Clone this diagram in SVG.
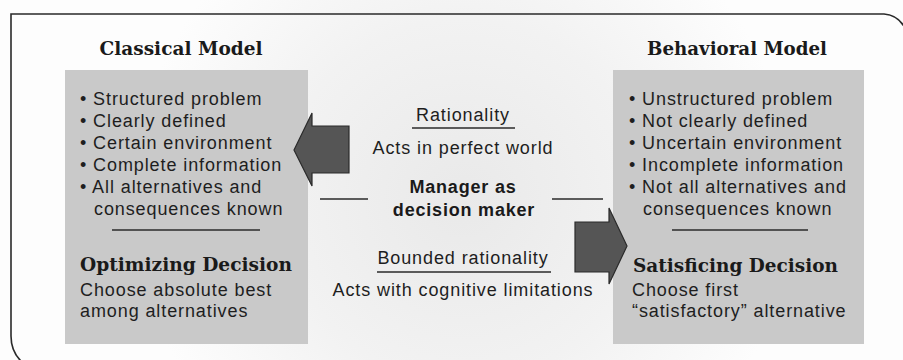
<svg xmlns="http://www.w3.org/2000/svg" width="903" height="360" viewBox="0 0 903 360">
  <defs>
    <radialGradient id="haze" gradientUnits="userSpaceOnUse" cx="463" cy="200" r="330">
      <stop offset="0" stop-color="#e9e9e9"/>
      <stop offset="0.55" stop-color="#f2f2f2"/>
      <stop offset="1" stop-color="#fdfdfd"/>
    </radialGradient>
    <style>
      .slab { font-family: "DejaVu Serif", "Liberation Serif", serif; font-weight: bold; font-size: 18px; fill: #1a1a1a; }
      .sans { font-family: "Liberation Sans", Arial, sans-serif; font-size: 18px; letter-spacing: 0.9px; fill: #1e1e1e; }
      .bold { font-family: "Liberation Sans", Arial, sans-serif; font-size: 18px; font-weight: bold; letter-spacing: 0.8px; fill: #1a1a1a; }
      .mid { text-anchor: middle; }
      .box { fill: #c9c9c9; }
      .rule { stroke: #2a2a2a; stroke-width: 1.5; fill: none; }
      .arrow { fill: #555555; stroke: #2a2a2a; stroke-width: 1.2; }
    </style>
  </defs>

  <rect x="0" y="0" width="903" height="360" fill="url(#haze)"/>

  <g id="frame">
    <path d="M 22 362 Q 11 352 11 336 L 11 14 L 884 14 Q 898 15 905 28" fill="none" stroke="#2a2a2a" stroke-width="1.6"/>
  </g>

  <g id="classical-model">
    <text class="slab mid" x="181" y="55" textLength="163" lengthAdjust="spacingAndGlyphs">Classical Model</text>
    <rect class="box" x="65" y="70" width="243" height="274"/>
    <text class="sans" x="80" y="105">• Structured problem</text>
    <text class="sans" x="80" y="127">• Clearly defined</text>
    <text class="sans" x="80" y="149">• Certain environment</text>
    <text class="sans" x="80" y="171">• Complete information</text>
    <text class="sans" x="80" y="193">• All alternatives and</text>
    <text class="sans" x="94" y="215">consequences known</text>
    <line class="rule" x1="112" y1="230" x2="260" y2="230"/>
    <text class="slab" x="80" y="271" textLength="212" lengthAdjust="spacingAndGlyphs">Optimizing Decision</text>
    <text class="sans" x="80" y="296">Choose absolute best</text>
    <text class="sans" x="80" y="317">among alternatives</text>
  </g>

  <g id="behavioral-model">
    <text class="slab mid" x="737" y="55" textLength="180" lengthAdjust="spacingAndGlyphs">Behavioral Model</text>
    <rect class="box" x="613" y="70" width="251" height="274"/>
    <text class="sans" x="629" y="105">• Unstructured problem</text>
    <text class="sans" x="629" y="127">• Not clearly defined</text>
    <text class="sans" x="629" y="149">• Uncertain environment</text>
    <text class="sans" x="629" y="171">• Incomplete information</text>
    <text class="sans" x="629" y="193">• Not all alternatives and</text>
    <text class="sans" x="643" y="215">consequences known</text>
    <line class="rule" x1="672" y1="230" x2="808" y2="230"/>
    <text class="slab" x="633" y="272" textLength="205" lengthAdjust="spacingAndGlyphs">Satisficing Decision</text>
    <text class="sans" x="632" y="296">Choose first</text>
    <text class="sans" x="632" y="317">“satisfactory” alternative</text>
  </g>

  <g id="manager">
    <text class="sans mid" x="463" y="121">Rationality</text>
    <line class="rule" x1="412" y1="128" x2="515" y2="128"/>
    <text class="sans mid" x="463" y="154">Acts in perfect world</text>
    <text class="bold mid" x="463" y="193">Manager as</text>
    <text class="bold mid" x="464" y="216">decision maker</text>
    <line class="rule" x1="320" y1="199" x2="368" y2="199"/>
    <line class="rule" x1="552" y1="199" x2="603" y2="199"/>
    <text class="sans mid" x="463" y="264">Bounded rationality</text>
    <line class="rule" x1="377" y1="272" x2="551" y2="272"/>
    <text class="sans mid" x="463" y="296">Acts with cognitive limitations</text>
  </g>

  <g id="connectors">
    <polygon class="arrow" points="294,150 312,113 312,126 349,126 349,173 312,173 312,186"/>
    <polygon class="arrow" points="627,246 609,208 609,222 575,222 575,272 609,272 609,284"/>
  </g>
</svg>
